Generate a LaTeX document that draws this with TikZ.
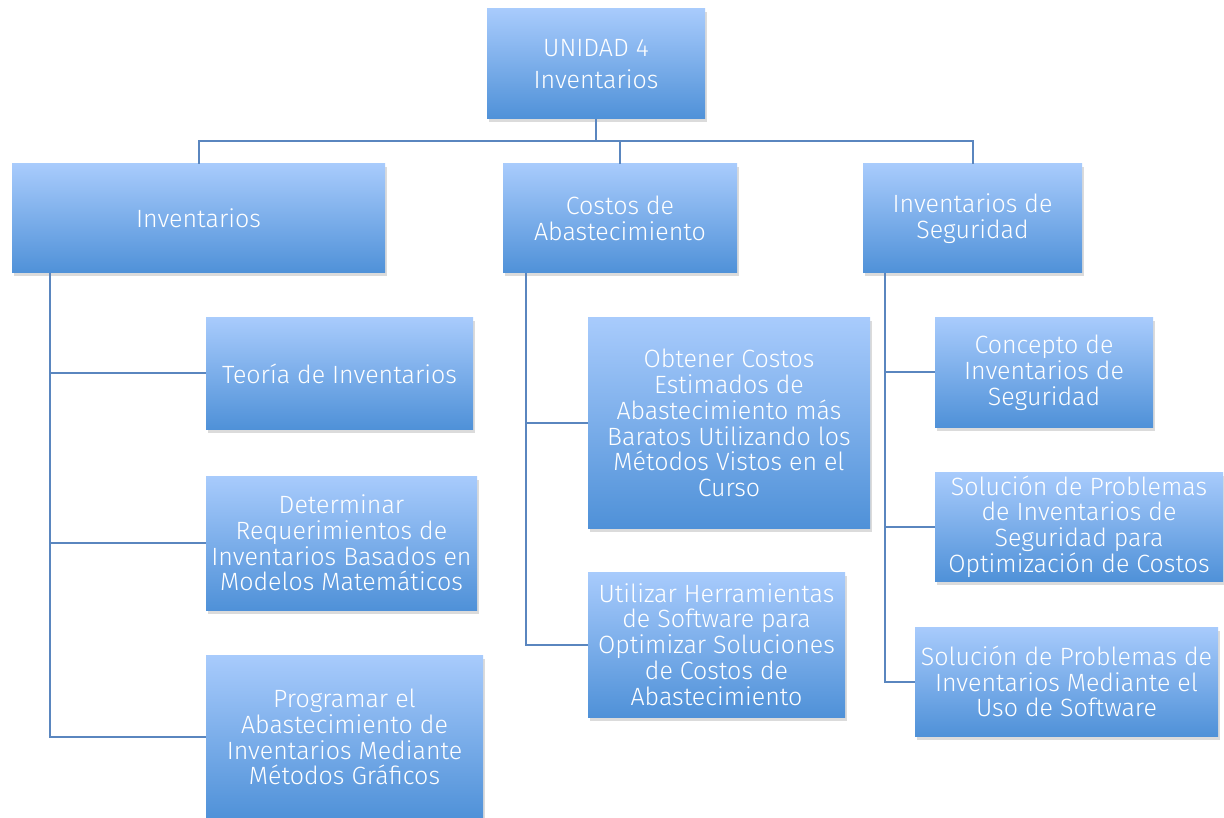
\documentclass[tikz,border=0pt]{standalone}
\usepackage{fontspec}
\setmainfont{Fira Sans}[UprightFont=* Light]
\usetikzlibrary{shadows}
\definecolor{boxtop}{HTML}{A8CBFC}
\definecolor{boxbot}{HTML}{4F91D8}
\definecolor{linkc}{HTML}{5A86BF}
\tikzset{
  box/.style={rectangle, inner sep=0pt, align=center, text=white,
    top color=boxtop, bottom color=boxbot, draw=none,
    drop shadow={opacity=0.28, shadow xshift=1.5pt, shadow yshift=-3.5pt},
    font=\fontsize{25}{25.8}\selectfont},
  link/.style={draw=linkc, line width=2pt}
}
\begin{document}
\begin{tikzpicture}[x=1pt,y=-1pt]
\useasboundingbox (0,0) rectangle (1224,818);
\clip (0,0) rectangle (1224,818);
\fill[white] (0,0) rectangle (1224,818);

\node[box, minimum width=218pt, minimum height=110pt] (top) at (596,64) {UNIDAD 4\\[7pt]Inventarios};

\node[box, minimum width=373pt, minimum height=109pt] (inv) at (198.5,218.5) {Inventarios};
\node[box, minimum width=234pt, minimum height=109pt] (cost) at (620,218.5) {Costos de\\Abastecimiento};
\node[box, minimum width=219pt, minimum height=109pt] (seg) at (972.5,218.5) {Inventarios de\\Seguridad};

\node[box, minimum width=267pt, minimum height=111pt] (teo) at (339.5,373.5) {Teoría de Inventarios};
\node[box, minimum width=271pt, minimum height=134pt] (det) at (341.5,543) {Determinar\\Requerimientos de\\Inventarios Basados en\\Modelos Matemáticos};
\node[box, minimum width=277pt, minimum height=164pt] (prog) at (344.5,737) {Programar el\\Abastecimiento de\\Inventarios Mediante\\Métodos Gráficos};

\node[box, minimum width=282pt, minimum height=210pt] (obt) at (729,423) {Obtener Costos\\Estimados de\\Abastecimiento más\\Baratos Utilizando los\\Métodos Vistos en el\\Curso};
\node[box, minimum width=257pt, minimum height=145pt] (uti) at (716.5,644.5) {Utilizar Herramientas\\de Software para\\Optimizar Soluciones\\de Costos de\\Abastecimiento};

\node[box, minimum width=218pt, minimum height=109pt] (con) at (1044,372.5) {Concepto de\\Inventarios de\\Seguridad};
\node[box, minimum width=288pt, minimum height=109pt] (sols) at (1079,526.5) {Solución de Problemas\\de Inventarios de\\Seguridad para\\Optimización de Costos};
\node[box, minimum width=303pt, minimum height=109pt] (solw) at (1066.5,681.5) {Solución de Problemas de\\Inventarios Mediante el\\Uso de Software};

\coordinate (bar) at (596,141);
\draw[link] (top.south) -- (bar);
\draw[link] (bar) -| (inv.north);
\draw[link] (bar) -| (cost.north);
\draw[link] (bar) -| (seg.north);

\coordinate (invd) at ([xshift=38pt]inv.south west);
\draw[link] (invd) |- (teo.west);
\draw[link] (invd) |- (det.west);
\draw[link] (invd) |- (prog.west);

\coordinate (costd) at ([xshift=23pt]cost.south west);
\draw[link] (costd) |- (obt.west);
\draw[link] (costd) |- (uti.west);

\coordinate (segd) at ([xshift=22pt]seg.south west);
\draw[link] (segd) |- (con.west);
\draw[link] (segd) |- (sols.west);
\draw[link] (segd) |- (solw.west);
\end{tikzpicture}
\end{document}
